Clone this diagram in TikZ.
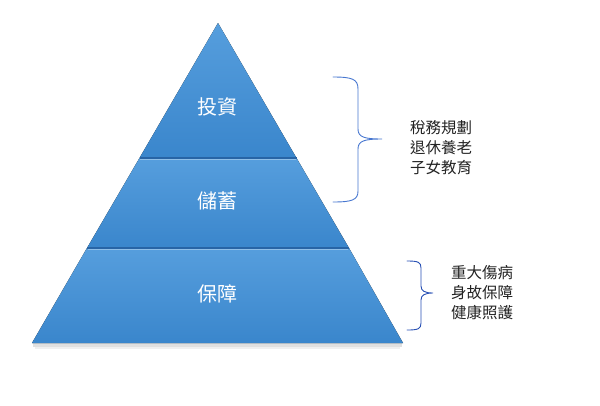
\documentclass[tikz,border=0pt]{standalone}
\usepackage{fontspec}
\setmainfont{Noto Sans CJK TC}
\usepackage{tikz}
\usetikzlibrary{calc}

\definecolor{tierTop}{RGB}{86,158,221}
\definecolor{tierBot}{RGB}{58,134,204}
\definecolor{tierEdge}{RGB}{40,100,165}
\definecolor{braceA}{RGB}{70,118,208}
\definecolor{braceB}{RGB}{40,80,180}
\definecolor{noteText}{RGB}{35,35,35}

\tikzset{
  tier/.style={shading=axis, top color=tierTop, bottom color=tierBot, draw=none},
  tierlabel/.style={text=white, font=\fontsize{20}{24}\selectfont},
  curly/.style={line width=0.9pt, line cap=round},
  notes/.style={anchor=west, align=left, text=noteText, font=\fontsize{15.5}{20}\selectfont, inner sep=0pt}
}

\begin{document}
\begin{tikzpicture}[x=1pt, y=-1pt]

  \useasboundingbox (0,0) rectangle (600,405);

  % ---------- Pyramid outline ----------
  \coordinate (apex) at (218,23);
  \coordinate (bl) at (32,343);
  \coordinate (br) at (403,343);
  \coordinate (l1) at (139.5,158);
  \coordinate (r1) at (296.5,158);
  \coordinate (l2) at (87,248);
  \coordinate (r2) at (349,248);

  % soft shadow under the base
  \fill[black, opacity=0.12] (33,343) rectangle (402,347);
  \fill[black, opacity=0.06] (35,347) rectangle (400,349);

  % ---------- Tiers ----------
  \fill[tier] (apex) -- (r1) -- (l1) -- cycle;
  \fill[tier] (l1) -- (r1) -- (r2) -- (l2) -- cycle;
  \fill[tier] (l2) -- (r2) -- (br) -- (bl) -- cycle;

  % dividers
  \draw[tierEdge, line width=1.2pt] (l1) -- (r1);
  \draw[tierEdge, line width=1.2pt] (l2) -- (r2);
  \draw[white, opacity=0.35, line width=0.6pt] ($(l1)+(0.6,1.6)$) -- ($(r1)+(-0.6,1.6)$);
  \draw[white, opacity=0.35, line width=0.6pt] ($(l2)+(0.6,1.6)$) -- ($(r2)+(-0.6,1.6)$);

  \node[tierlabel] (invest) at (217,107) {投資};
  \node[tierlabel] (save) at (217,201) {儲蓄};
  \node[tierlabel] (protect) at (217,294) {保障};

  % ---------- Upper brace ----------
  \coordinate (b1top) at (333,77);
  \coordinate (b1tip) at (382,139);
  \coordinate (b1bot) at (333,202);
  \draw[curly, braceA]
    (b1top) .. controls (352,77) and (358,79) .. (358,89) -- (358,129)
    .. controls (358,137) and (364,139) .. (b1tip)
    .. controls (364,139) and (358,141) .. (358,149) -- (358,191)
    .. controls (358,200) and (352,202) .. (b1bot);

  \node[notes] (plan) at (410,148) {稅務規劃\\退休養老\\子女教育};

  % ---------- Lower brace ----------
  \coordinate (b2top) at (407,261);
  \coordinate (b2tip) at (433,293);
  \coordinate (b2bot) at (407,330);
  \draw[curly, braceB]
    (b2top) .. controls (418,261) and (421,262) .. (421,268) -- (421,286)
    .. controls (421,291) and (425,293) .. (b2tip)
    .. controls (425,293) and (421,295) .. (421,300) -- (421,323)
    .. controls (421,329) and (418,330) .. (b2bot);

  \node[notes] (cover) at (451,293) {重大傷病\\身故保障\\健康照護};

\end{tikzpicture}
\end{document}
